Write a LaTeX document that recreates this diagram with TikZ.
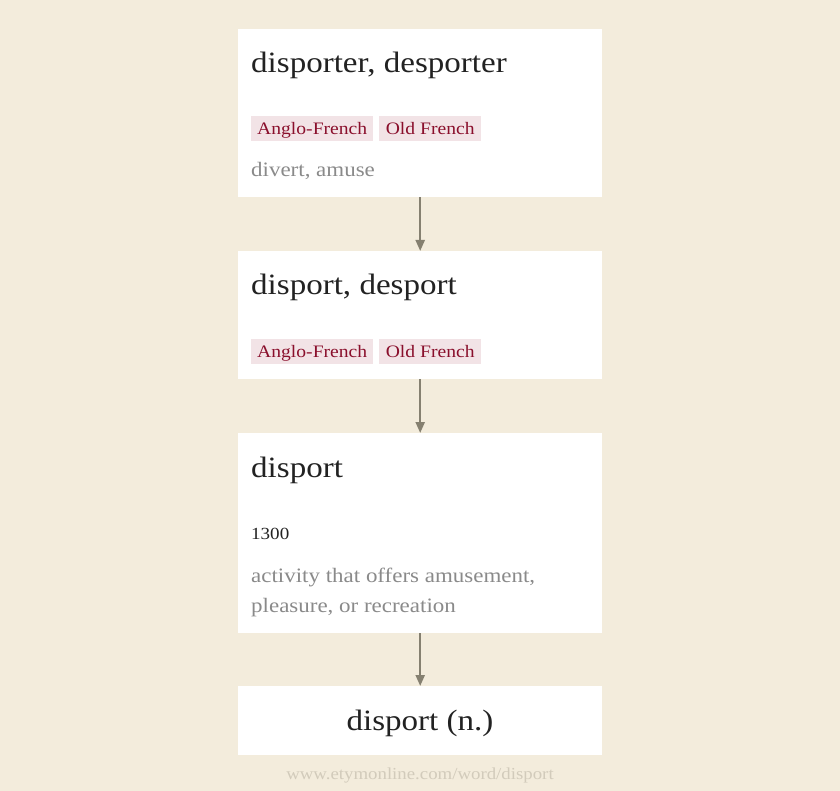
\documentclass[tikz,border=0pt]{standalone}
\usepackage{fontspec}
\setmainfont{Liberation Serif}[FakeStretch=1.12]
\usetikzlibrary{arrows.meta}
\definecolor{bg}{HTML}{F3ECDC}
\definecolor{tagfill}{HTML}{F2E3E6}
\definecolor{tagtext}{HTML}{8A0F2C}
\definecolor{glosstext}{HTML}{8A8A8A}
\definecolor{arrowcol}{HTML}{858070}
\definecolor{foottext}{HTML}{D2CBBB}
\definecolor{titletext}{HTML}{222222}
\tikzset{
  card/.style={fill=white, draw=none, inner sep=0pt, minimum width=364pt, anchor=north west},
  title/.style={anchor=base west, inner sep=0pt, text=titletext, font=\fontsize{29.5}{34}\selectfont},
  tag/.style={anchor=west, fill=tagfill, text=tagtext, inner sep=0pt, minimum height=25pt, font=\fontsize{17.5}{20}\selectfont, text depth=0pt},
  gloss/.style={anchor=base west, inner sep=0pt, text=glosstext, font=\fontsize{20.5}{24}\selectfont},
  link/.style={draw=arrowcol, line width=2.2pt, -{Triangle[length=11pt,width=9pt]}},
}
\begin{document}
\begin{tikzpicture}[x=1pt,y=-1pt]
\fill[bg] (0,0) rectangle (840,791);
\useasboundingbox (0,0) rectangle (840,791);
% cards
\node[card, minimum height=168pt] (c1) at (238,29) {};
\node[card, minimum height=128pt] (c2) at (238,251) {};
\node[card, minimum height=200pt] (c3) at (238,433) {};
\node[card, minimum height=69pt] (c4) at (238,686) {};
% card 1
\node[title] (t1) at (251,73) {disporter, desporter};
\node[tag, minimum width=122pt] (a1) at (251,128.5) {Anglo-French};
\node[tag, minimum width=102pt] (o1) at (379,128.5) {Old French};
\node[gloss] (g1) at (251,177) {divert, amuse};
% card 2
\node[title] (t2) at (251,295) {disport, desport};
\node[tag, minimum width=122pt] (a2) at (251,351) {Anglo-French};
\node[tag, minimum width=102pt] (o2) at (379,351) {Old French};
% card 3
\node[title] (t3) at (251,477) {disport};
\node[anchor=base west, inner sep=0pt, text=titletext, font=\fontsize{17}{20}\selectfont] (y3) at (251,539) {1300};
\node[gloss] (g3a) at (251,582) {activity that offers amusement,};
\node[gloss] (g3b) at (251,612) {pleasure, or recreation};
% card 4
\node[anchor=base, inner sep=0pt, text=titletext, font=\fontsize{29.5}{34}\selectfont] (t4) at (420,730) {disport (n.)};
% footer
\node[anchor=base, inner sep=0pt, text=foottext, font=\fontsize{16.8}{19}\selectfont] (f) at (420,779) {www.etymonline.com/word/disport};
% arrows
\draw[link] (c1.south) -- (c2.north);
\draw[link] (c2.south) -- (c3.north);
\draw[link] (c3.south) -- (c4.north);
\end{tikzpicture}
\end{document}
